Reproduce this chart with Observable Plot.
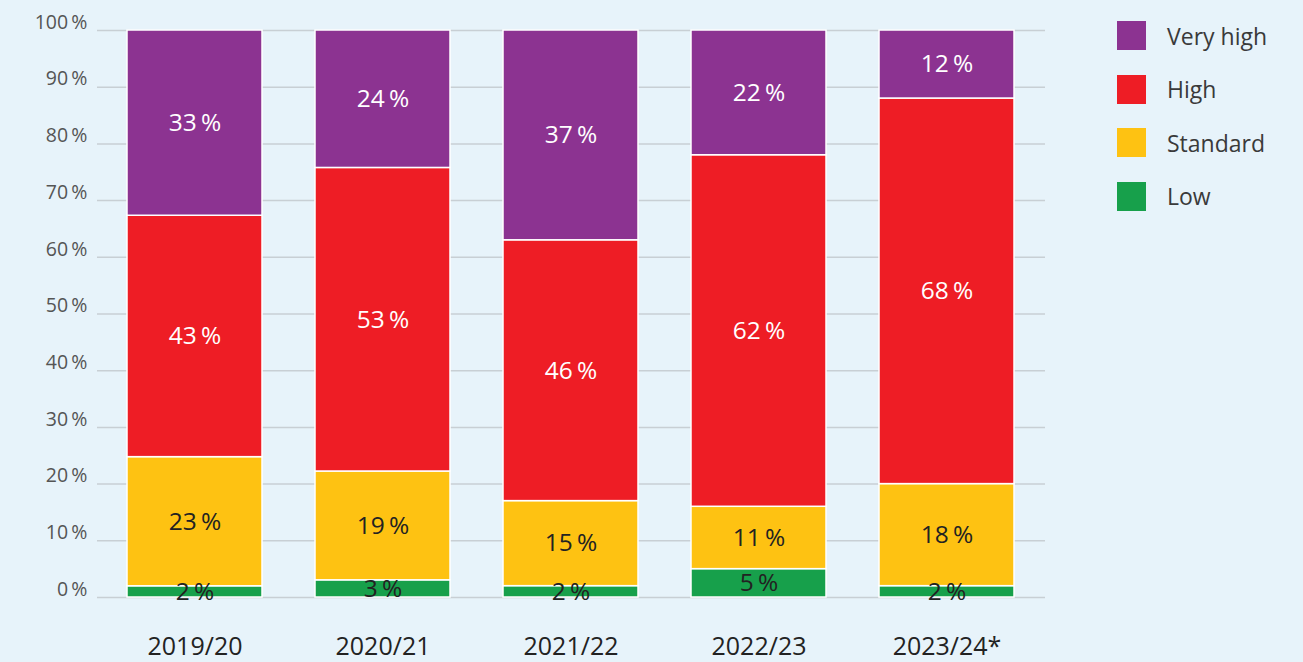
<!DOCTYPE html>
<html>
<head>
<meta charset="utf-8">
<script src="https://cdn.jsdelivr.net/npm/d3@7"></script>
<script src="https://cdn.jsdelivr.net/npm/@observablehq/plot@0.6"></script>
<style>
  html, body { margin: 0; padding: 0; background: #e7f3fa; }
  body { width: 1303px; height: 662px; position: relative; overflow: hidden; font-family: "Open Sans", sans-serif; }
  #legend { position: absolute; left: 1117px; top: 21px; }
  .item { display: flex; align-items: center; height: 29px; margin-bottom: 24.5px; }
  .sw { width: 29px; height: 29px; margin-right: 21px; }
  .lab { font-size: 23px; color: #3a3a3a; }
</style>
</head>
<body>
<div id="chart"></div>
<div id="legend"></div>
<script>
const years = ["2019/20", "2020/21", "2021/22", "2022/23", "2023/24*"];
const categories = ["Low", "Standard", "High", "Very high"];
const low = [2, 3, 2, 5, 2];
const standard = [23, 19, 15, 11, 18];
const high = [43, 53, 46, 62, 68];
const veryHigh = [33, 24, 37, 22, 12];
const colors = ["#17a04b", "#fec212", "#ee1d25", "#8c3391"];
const textColors = ["#222222", "#222222", "#ffffff", "#ffffff"];
const yTicks = [0, 10, 20, 30, 40, 50, 60, 70, 80, 90, 100];

const series = [low, standard, high, veryHigh];
const rows = [];
years.forEach((yr, i) => {
  categories.forEach((cat, j) => {
    rows.push({year: yr, category: cat, value: series[j][i]});
  });
});

const fmt = d => Math.round(d * 100) + "\u2009%";
const ticks = yTicks.map(t => t / 100);

const chart = Plot.plot({
  width: 1303,
  height: 662,
  marginLeft: 97,
  marginRight: 258,
  marginTop: 30,
  marginBottom: 65,
  style: {background: "transparent", fontFamily: "Open Sans, sans-serif", color: "#555"},
  x: {domain: years, paddingInner: 0.28, paddingOuter: 0.16, label: null},
  y: {domain: [0, 1], label: null},
  color: {domain: categories, range: colors},
  marks: [
    Plot.gridY(ticks, {stroke: "#c8cfd4", strokeOpacity: 1, strokeWidth: 1.5}),
    Plot.axisY(ticks, {tickFormat: fmt, tickSize: 0, tickPadding: 10, fontSize: 19.5, dy: -8, label: null}),
    Plot.axisX({tickSize: 0, tickPadding: 40, fontSize: 25, fill: "#222", label: null}),
    Plot.barY(rows, Plot.stackY({offset: "normalize", x: "year", y: "value", fill: "category", stroke: "white", strokeWidth: 1.5})),
    Plot.text(rows, Plot.stackY({offset: "normalize", x: "year", y: "value", z: "category",
      text: d => d.value + "\u2009%",
      fill: d => textColors[categories.indexOf(d.category)],
      fontSize: 24.5})),
  ]
});
document.getElementById("chart").appendChild(chart);

const legend = document.getElementById("legend");
[...categories].reverse().forEach(cat => {
  const item = document.createElement("div");
  item.className = "item";
  const sw = document.createElement("div");
  sw.className = "sw";
  sw.style.background = colors[categories.indexOf(cat)];
  const lab = document.createElement("span");
  lab.className = "lab";
  lab.textContent = cat;
  item.appendChild(sw);
  item.appendChild(lab);
  legend.appendChild(item);
});
</script>
</body>
</html>
